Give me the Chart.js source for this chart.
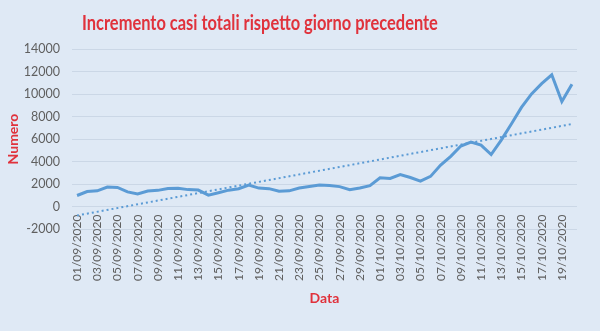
<!DOCTYPE html>
<html>
<head>
<meta charset="utf-8">
<script src="https://cdn.jsdelivr.net/npm/chart.js@4/dist/chart.umd.min.js"></script>
<style>
  html, body { margin: 0; padding: 0; background: #dfe9f5; }
  #wrap { position: relative; width: 600px; height: 331px; background: #dfe9f5; overflow: hidden; }
  #title { position: absolute; left: 82px; top: 11px; white-space: nowrap; font-family: Lato, "Liberation Sans", sans-serif; font-weight: bold; font-size: 20px; line-height: 22px; color: #e0323c; transform-origin: 0 50%; }
  canvas { position: absolute; left: 0; top: 0; }
</style>
</head>
<body>
<div id="wrap">
  <canvas id="c" width="600" height="331"></canvas>
  <div id="title">Incremento casi totali rispetto giorno precedente</div>
</div>
<script>
const categories = [
  "01/09/2020","02/09/2020","03/09/2020","04/09/2020","05/09/2020","06/09/2020","07/09/2020","08/09/2020","09/09/2020","10/09/2020",
  "11/09/2020","12/09/2020","13/09/2020","14/09/2020","15/09/2020","16/09/2020","17/09/2020","18/09/2020","19/09/2020","20/09/2020",
  "21/09/2020","22/09/2020","23/09/2020","24/09/2020","25/09/2020","26/09/2020","27/09/2020","28/09/2020","29/09/2020","30/09/2020",
  "01/10/2020","02/10/2020","03/10/2020","04/10/2020","05/10/2020","06/10/2020","07/10/2020","08/10/2020","09/10/2020","10/10/2020",
  "11/10/2020","12/10/2020","13/10/2020","14/10/2020","15/10/2020","16/10/2020","17/10/2020","18/10/2020","19/10/2020","20/10/2020"
];
const incremento = [
  978, 1326, 1397, 1733, 1695, 1297, 1108, 1370, 1434, 1597,
  1616, 1501, 1458, 1008, 1229, 1452, 1585, 1907, 1638, 1587,
  1350, 1392, 1640, 1786, 1912, 1869, 1766, 1494, 1648, 1851,
  2548, 2499, 2844, 2578, 2257, 2677, 3678, 4458, 5372, 5724,
  5456, 4619, 5901, 7332, 8804, 10010, 10925, 11705, 9338, 10874
];
const trendEndpoints = [-800, 7330];
const yTicks = [-2000, 0, 2000, 4000, 6000, 8000, 10000, 12000, 14000];

const t = document.getElementById('title');
t.style.transform = 'scaleX(' + (356 / t.offsetWidth) + ')';

const red = '#e0323c';
const blue = '#5b9bd5';
const grid = '#cbd7e6';
const tickFont = 'Lato';

new Chart(document.getElementById('c'), {
  type: 'line',
  data: {
    labels: categories,
    datasets: [
      {
        data: incremento,
        borderColor: blue,
        borderWidth: 3,
        pointRadius: 0,
        tension: 0,
        fill: false
      },
      {
        data: [
          { x: categories[0], y: trendEndpoints[0] },
          { x: categories[categories.length - 1], y: trendEndpoints[1] }
        ],
        borderColor: blue,
        borderWidth: 2,
        borderDash: [2, 3],
        pointRadius: 0,
        fill: false
      }
    ]
  },
  options: {
    responsive: false,
    animation: false,
    events: [],
    layout: { padding: { top: 49, right: 23, bottom: 102, left: 0 } },
    plugins: { legend: { display: false }, tooltip: { enabled: false }, title: { display: false } },
    scales: {
      x: {
        type: 'category',
        position: { y: 0 },
        offset: true,
        grid: { display: false, drawTicks: false },
        border: { display: false },
        ticks: {
          autoSkip: false,
          minRotation: 90,
          maxRotation: 90,
          padding: 8,
          color: '#5f5f5f',
          font: { family: tickFont, size: 12 },
          callback: function (v, i) { return i % 2 === 0 ? categories[i] : ''; }
        },
        title: {
          display: true,
          text: 'Data',
          color: red,
          font: { family: tickFont, size: 14, weight: 'bold' },
          padding: { top: 4, bottom: 2 }
        },
        afterFit: function (s) { s.height = 102; }
      },
      y: {
        min: -2000,
        max: 14000,
        afterBuildTicks: function (s) { s.ticks = yTicks.map(v => ({ value: v })); },
        grid: { color: grid, lineWidth: 1, drawTicks: false },
        border: { display: false },
        ticks: {
          padding: 12,
          color: '#5f5f5f',
          font: { family: tickFont, size: 12.5 },
          callback: function (v) { return String(v); }
        },
        title: {
          display: true,
          text: 'Numero',
          color: red,
          font: { family: tickFont, size: 14, weight: 'bold' },
          padding: { top: 5, bottom: 0 }
        },
        afterFit: function (s) { s.width = 72; }
      }
    }
  }
});
</script>
</body>
</html>
